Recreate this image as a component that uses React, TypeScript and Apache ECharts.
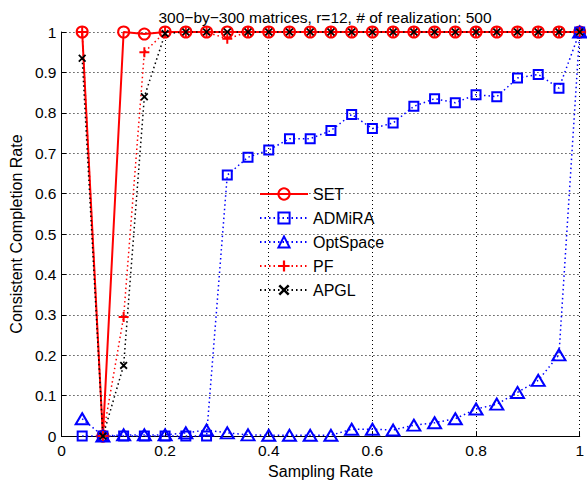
import React, { useEffect, useRef } from "react";
import * as echarts from "echarts";

const samplingRates = [0.04, 0.08, 0.12, 0.16, 0.2, 0.24, 0.28, 0.32, 0.36, 0.4, 0.44, 0.48, 0.52, 0.56, 0.6, 0.64, 0.68, 0.72, 0.76, 0.8, 0.84, 0.88, 0.92, 0.96, 1.0];
const setRates = [1, 0, 1, 0.995, 1, 1, 1, 1, 1, 1, 1, 1, 1, 1, 1, 1, 1, 1, 1, 1, 1, 1, 1, 1, 1];
const admiraRates = [0, 0, 0, 0, 0, 0, 0, 0.646, 0.69, 0.708, 0.736, 0.736, 0.756, 0.796, 0.761, 0.775, 0.816, 0.835, 0.825, 0.845, 0.84, 0.886, 0.895, 0.861, 1];
const optspaceRates = [0.043, 0, 0.003, 0.003, 0.003, 0.008, 0.015, 0.008, 0.003, 0.002, 0.002, 0.002, 0.002, 0.017, 0.017, 0.015, 0.027, 0.033, 0.043, 0.067, 0.079, 0.108, 0.138, 0.201, 1];
const pfRates = [1, 0, 0.295, 0.95, 1, 1, 1, 0.983, 1, 1, 1, 1, 1, 1, 1, 1, 1, 1, 1, 1, 1, 1, 1, 1, 1];
const apglRates = [0.935, 0, 0.175, 0.84, 0.996, 1, 1, 1, 1, 1, 1, 1, 1, 1, 1, 1, 1, 1, 1, 1, 1, 1, 1, 1, 1];

const titleText = "300\u2212by\u2212300 matrices, r=12, # of realization: 500";
const xName = "Sampling Rate";
const yName = "Consistent Completion Rate";

const FONT = "Liberation Sans, Arial, Helvetica, sans-serif";
const PLUS = "path://M4,0H6V4H10V6H6V10H4V6H0V4H4Z";
const CROSS = "path://M0,1.6L1.6,0L5,3.4L8.4,0L10,1.6L6.6,5L10,8.4L8.4,10L5,6.6L1.6,10L0,8.4L3.4,5Z";

function pairs(ys: number[]) {
  return samplingRates.map((x, i) => [x, ys[i]]);
}

export default function App() {
  const ref = useRef<HTMLDivElement>(null);
  useEffect(() => {
    if (!ref.current) return;
    const chart = echarts.init(ref.current, null, { renderer: "svg" });
    const dotted = [1.5, 3];
    chart.setOption({
      animation: false,
      backgroundColor: "#fff",
      title: {
        text: titleText,
        left: 320,
        top: 4,
        textAlign: "center",
        textStyle: { fontFamily: FONT, fontSize: 15.5, fontWeight: "normal", color: "#000" },
      },
      legend: {
        orient: "vertical",
        left: 259,
        top: 186,
        itemWidth: 48,
        itemHeight: 14,
        itemGap: 8,
        padding: 0,
        textStyle: { fontFamily: FONT, fontSize: 16, color: "#000" },
        data: ["SET", "ADMiRA", "OptSpace", "PF", "APGL"],
      },
      grid: { left: 58, right: 7, top: 32, bottom: 41, containLabel: false },
      xAxis: {
        type: "value",
        min: 0,
        max: 1,
        interval: 0.2,
        name: xName,
        nameLocation: "middle",
        nameGap: 22,
        nameTextStyle: { fontFamily: FONT, fontSize: 16, color: "#000" },
        axisLine: { show: true, onZero: false, lineStyle: { color: "#000", width: 1 } },
        axisTick: { show: true, inside: true, length: 5, lineStyle: { color: "#000" } },
        axisLabel: { fontFamily: FONT, fontSize: 15.5, color: "#000", margin: 6 },
        splitLine: { show: true, lineStyle: { color: "#000", type: [1, 3], width: 1 } },
      },
      yAxis: {
        type: "value",
        min: 0,
        max: 1,
        interval: 0.1,
        name: yName,
        nameLocation: "middle",
        nameGap: 33,
        nameTextStyle: { fontFamily: FONT, fontSize: 16, color: "#000" },
        axisLine: { show: true, onZero: false, lineStyle: { color: "#000", width: 1 } },
        axisTick: { show: true, inside: true, length: 5, lineStyle: { color: "#000" } },
        axisLabel: { fontFamily: FONT, fontSize: 15.5, color: "#000", margin: 5 },
        splitLine: { show: true, lineStyle: { color: "#000", type: [1, 3], width: 1 } },
      },
      series: [
        {
          name: "SET",
          type: "line",
          data: pairs(setRates),
          symbol: "circle",
          symbolSize: 11,
          lineStyle: { color: "#ff0000", width: 2 },
          itemStyle: { color: "rgba(255,255,255,0)", borderColor: "#ff0000", borderWidth: 2 },
          clip: false,
        },
        {
          name: "ADMiRA",
          type: "line",
          data: pairs(admiraRates),
          symbol: "rect",
          symbolSize: 9,
          lineStyle: { color: "#0000ff", width: 1.5, type: dotted },
          itemStyle: { color: "rgba(255,255,255,0)", borderColor: "#0000ff", borderWidth: 2 },
          clip: false,
        },
        {
          name: "OptSpace",
          type: "line",
          data: pairs(optspaceRates),
          symbol: "triangle",
          symbolSize: [13, 11],
          lineStyle: { color: "#0000ff", width: 1.5, type: dotted },
          itemStyle: { color: "rgba(255,255,255,0)", borderColor: "#0000ff", borderWidth: 2 },
          clip: false,
        },
        {
          name: "PF",
          type: "line",
          data: pairs(pfRates),
          symbol: PLUS,
          symbolSize: 10,
          lineStyle: { color: "#ff0000", width: 1.5, type: dotted },
          itemStyle: { color: "#ff0000" },
          clip: false,
        },
        {
          name: "APGL",
          type: "line",
          data: pairs(apglRates),
          symbol: CROSS,
          symbolSize: 8,
          lineStyle: { color: "#000", width: 1.5, type: dotted },
          itemStyle: { color: "#000" },
          clip: false,
        },
      ],
    });
    return () => chart.dispose();
  }, []);
  return <div ref={ref} style={{ width: 587, height: 484, position: "absolute", left: 0, top: 0 }} />;
}
